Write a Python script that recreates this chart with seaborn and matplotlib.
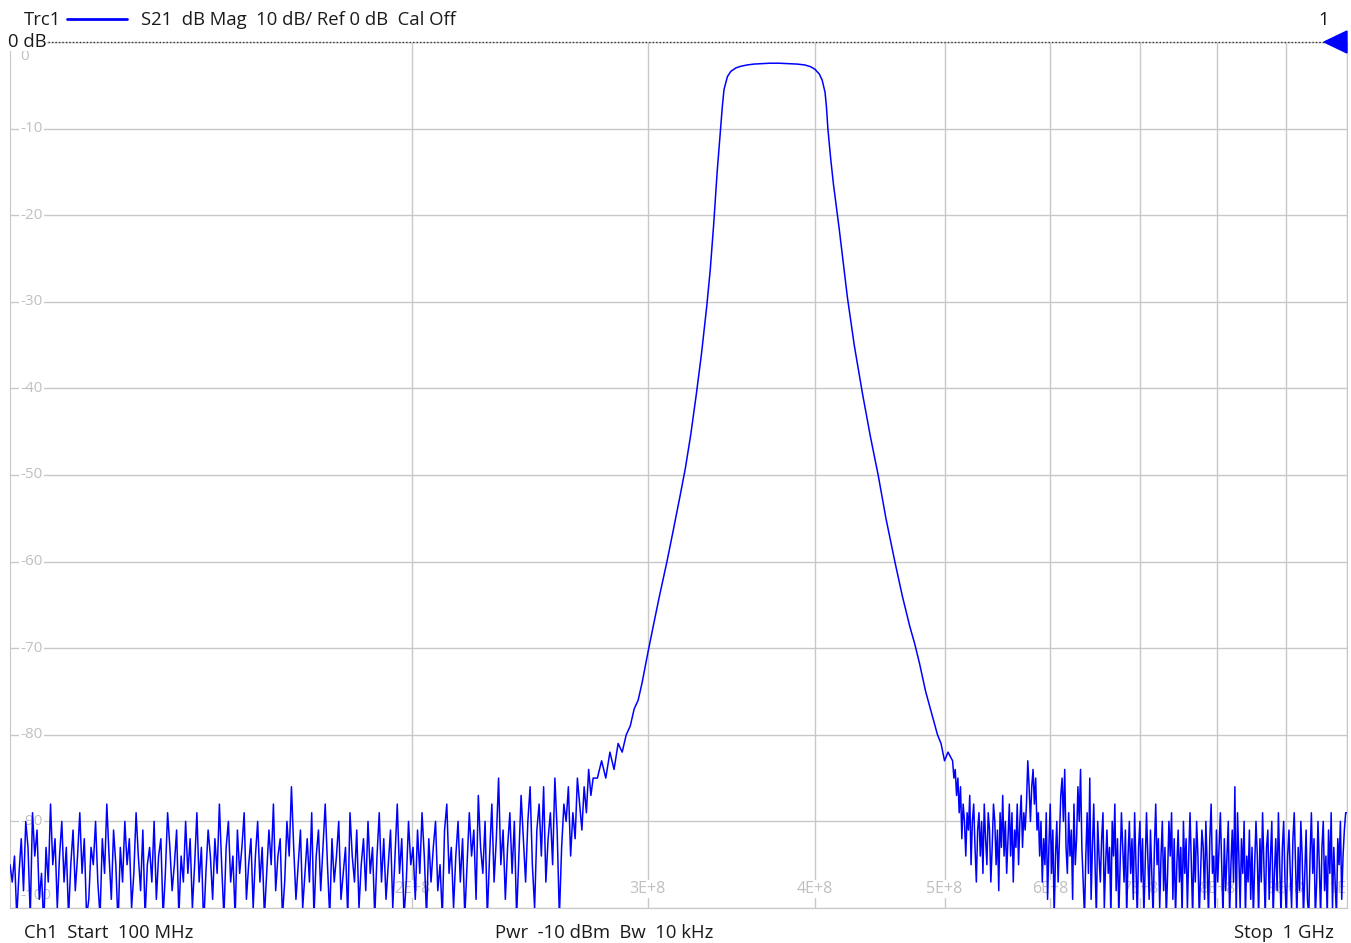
import numpy as np
import pandas as pd
import seaborn as sns
import matplotlib.pyplot as plt
from matplotlib.patches import Polygon
from matplotlib.lines import Line2D

noise_left_start, noise_left_stop = 100, 273
noise_left_db = [
    -95, -97, -94, -101, -96, -92, -98, -90, -93, -101,
    -89, -94, -91, -99, -96, -102, -93, -97, -88, -95,
    -92, -100, -94, -90, -97, -93, -101, -95, -91, -98,
    -94, -89, -96, -92, -101, -99, -93, -95, -90, -97,
    -101, -92, -96, -88, -94, -99, -91, -95, -102, -93,
    -97, -90, -95, -92, -100, -96, -89, -94, -98, -91,
    -101, -95, -93, -97, -90, -99, -94, -92, -101, -96,
    -89, -93, -98, -95, -91, -101, -94, -97, -90, -96,
    -92, -100, -95, -89, -97, -93, -102, -96, -91, -94,
    -99, -92, -96, -88, -95, -101, -93, -90, -97, -94,
    -101, -91, -96, -93, -89, -99, -95, -92, -100, -94,
    -90, -97, -93, -101, -96, -91, -95, -88, -98, -94,
    -92, -101, -97, -90, -94, -86, -93, -99, -95, -91,
    -100, -96, -92, -97, -89, -101, -94, -91, -98, -93,
    -88, -95, -101, -92, -97, -94, -90, -99, -96, -93,
    -101, -89, -94, -97, -91, -100, -95, -92, -98, -90,
    -96, -93, -101, -94, -89, -97, -92, -99, -95, -91,
    -100, -94, -88, -96, -92, -101, -97, -90, -95, -93,
    -99, -91, -96, -89, -94, -101, -92, -97, -93, -90,
    -98, -95, -101, -91, -88, -96, -93, -100, -94, -90,
    -97, -92, -101, -95, -89, -94, -91, -99, -87, -93,
    -96, -90, -101, -94, -88, -97, -92, -85, -95, -91,
    -99, -93, -89, -96, -90, -101, -94, -87, -92, -97,
    -90, -86, -95, -100, -91, -88, -94, -86, -97, -92,
    -89, -95, -85, -91, -101, -93, -88, -90, -86, -94,
    -89, -92, -85, -88, -91, -86, -89, -84, -87, -85,
]

filter_mhz = [275, 277, 279, 281, 283, 285, 287, 289, 291, 293, 295, 297,
              300, 303, 306, 310, 313, 317, 320, 323, 326, 329, 332, 334,
              336, 338, 340, 341, 342, 344, 346, 349, 352, 356, 360, 365,
              370, 376, 382, 388, 393, 397, 400, 403, 405, 407, 408, 409,
              411, 413, 415, 417, 420, 423, 428, 434, 440, 446, 452, 459,
              465, 471, 475, 479, 484, 488, 491, 494, 497, 500, 503]
filter_db = [-85, -83, -85, -82, -84, -81, -82, -80, -79, -77, -76, -74,
             -70.5, -67.2, -64, -60, -56.8, -52.5, -49.2, -45.3, -40.8, -36,
             -30.5, -26.3, -21, -15, -10, -7.5, -5.5, -4.0, -3.4, -3.0,
             -2.8, -2.65, -2.55, -2.5, -2.45, -2.45, -2.5, -2.55, -2.65,
             -2.85, -3.15, -3.7, -4.4, -5.8, -7.5, -10, -13.5, -16.5, -19,
             -21.5, -25.5, -29.5, -35, -40.5, -45.5, -50, -55, -60, -64,
             -67.5, -69.5, -71.8, -75, -77, -78.5, -80, -81, -83, -82]

noise_right_start, noise_right_stop = 507, 1000
noise_right_db = [
    -83, -85, -84, -87, -85, -89, -86, -92, -88, -90,
    -94, -89, -91, -87, -95, -90, -88, -93, -97, -91,
    -89, -94, -90, -96, -88, -92, -95, -89, -91, -97,
    -93, -88, -90, -95, -91, -98, -89, -93, -87, -94,
    -90, -96, -92, -88, -94, -89, -97, -91, -93, -88,
    -95, -90, -87, -93, -89, -91, -88, -83, -86, -90,
    -86, -84, -88, -85, -91, -89, -94, -90, -97, -92,
    -95, -89, -99, -93, -88, -96, -91, -101, -94, -90,
    -97, -92, -87, -85, -90, -84, -93, -96, -89, -94,
    -91, -99, -88, -95, -92, -86, -90, -84, -93, -97,
    -101, -94, -89, -96, -85, -99, -93, -88, -95, -101,
    -90, -94, -97, -92, -89, -100, -95, -91, -96, -93,
    -101, -90, -94, -88, -98, -92, -101, -95, -89, -93,
    -97, -91, -101, -94, -90, -96, -92, -99, -89, -95,
    -101, -93, -90, -97, -92, -101, -95, -89, -94, -99,
    -91, -96, -101, -93, -88, -95, -92, -100, -94, -90,
    -98, -93, -101, -96, -90, -94, -89, -99, -92, -101,
    -95, -91, -97, -93, -101, -90, -96, -92, -100, -94,
    -89, -95, -101, -92, -97, -90, -94, -101, -96, -91,
    -93, -99, -90, -95, -101, -92, -88, -96, -94, -101,
    -91, -97, -93, -89, -95, -101, -92, -98, -94, -90,
    -101, -95, -91, -97, -86, -101, -89, -94, -100, -92,
    -96, -90, -101, -94, -97, -91, -99, -93, -101, -95,
    -90, -94, -101, -92, -97, -89, -95, -101, -93, -91,
    -99, -94, -90, -101, -96, -92, -98, -89, -95, -101,
    -93, -90, -97, -101, -94, -91, -96, -100, -92, -89,
    -95, -101, -93, -98, -90, -94, -101, -96, -91, -99,
    -101, -94, -89, -96, -92, -101, -97, -90, -95, -101,
    -93, -90, -98, -94, -101, -91, -96, -89, -100, -93,
    -97, -101, -92, -95, -90, -99, -94, -91, -89, -89,
]

y_ticks = [0, -10, -20, -30, -40, -50, -60, -70, -80, -90, -100]
x_ticks = [200, 300, 400, 500, 600, 700, 800, 900, 1000]
x_tick_labels = ["2E+8", "3E+8", "4E+8", "5E+8", "6E+8", "7E+8", "8E+8", "9E+8", "1E+9"]

# sweep points are evenly spaced on the log axis within each noise segment
f_left = np.geomspace(noise_left_start, noise_left_stop, len(noise_left_db))
f_right = np.geomspace(noise_right_start, noise_right_stop, len(noise_right_db))
df = pd.DataFrame({
    "freq": np.concatenate([f_left, filter_mhz, f_right]),
    "s21": np.concatenate([noise_left_db, filter_db, noise_right_db]),
})

sns.set_style("white")
plt.rcParams["font.family"] = ["Open Sans", "DejaVu Sans"]

W, H = 1351, 943
fig = plt.figure(figsize=(W / 100, H / 100), dpi=100)


def px(x, y):
    return x / W, 1 - y / H


ax = fig.add_axes([10 / W, 1 - 908 / H, 1337 / W, 866 / H])
grid_c = "#c8c8c8"

sns.lineplot(data=df, x="freq", y="s21", ax=ax, color="#0000ff", lw=1.1,
             estimator=None, sort=False, zorder=3)
ax.set_xscale("log")
ax.set_xlim(100, 1000)
ax.set_ylim(-100, 0)
ax.set_xlabel("")
ax.set_ylabel("")

for v in y_ticks:
    ax.axhline(v, color=grid_c, lw=1, zorder=1)
for f in x_ticks:
    ax.axvline(f, color=grid_c, lw=1, zorder=1)

ax.set_xticks(x_ticks)
ax.set_xticks([], minor=True)
ax.set_xticklabels([])
ax.set_yticks([])
ax.tick_params(axis="x", direction="out", length=5, color=grid_c, width=1)
for side in ["left", "bottom", "right"]:
    ax.spines[side].set_color(grid_c)
ax.spines["top"].set_visible(False)

# tick labels sit inside the plot, grey on white
lab_c = "#c0c0c0"
trans_y = ax.get_yaxis_transform()
for v in y_ticks[1:]:
    yy = max(v, -98.6)
    ax.text(0.0075, yy, str(v), transform=trans_y, ha="left", va="center",
            fontsize=11, color=lab_c, zorder=2,
            bbox=dict(facecolor="white", edgecolor="none", pad=1))
ax.text(0.0075, -0.8, "0", transform=trans_y, ha="left", va="top",
        fontsize=11, color=lab_c, zorder=2, clip_on=True)
for f, lab in zip(x_ticks, x_tick_labels):
    ax.text(f, -97.8, lab, ha="center", va="center", fontsize=11.5,
            color=lab_c, zorder=2, clip_on=True,
            bbox=dict(facecolor="white", edgecolor="none", pad=1))

# reference line at 0 dB and marker
fig.add_artist(Line2D([48 / W, 1325 / W], [1 - 42 / H, 1 - 42 / H],
                      color="#333333", lw=1, ls=(0, (1, 1.5))))
fig.add_artist(Polygon([px(1324, 42), px(1347, 31), px(1347, 53)],
                       closed=True, color="#0000ff"))

# header / footer annotations
txt_c = "#1a1a1a"
fs = 13.3
fig.text(*px(24, 20), "Trc1", fontsize=fs, color=txt_c, va="center")
fig.add_artist(Line2D([67 / W, 127 / W], [1 - 19 / H, 1 - 19 / H],
                      color="#0000ff", lw=2))
fig.text(*px(141, 20), "S21  dB Mag  10 dB/ Ref 0 dB  Cal Off",
         fontsize=fs, color=txt_c, va="center")
fig.text(*px(1318, 20), "1", fontsize=fs, color=txt_c, va="center")
fig.text(*px(8, 42), "0 dB", fontsize=fs, color=txt_c, va="center",
         bbox=dict(facecolor="white", edgecolor="none", pad=0))
fig.text(*px(24, 933), "Ch1  Start  100 MHz", fontsize=fs, color=txt_c, va="center")
fig.text(*px(495, 933), "Pwr  -10 dBm  Bw  10 kHz", fontsize=fs, color=txt_c, va="center")
fig.text(*px(1334, 933), "Stop  1 GHz", fontsize=fs, color=txt_c, va="center", ha="right")

fig.savefig("out.png", dpi=100, facecolor="white")
